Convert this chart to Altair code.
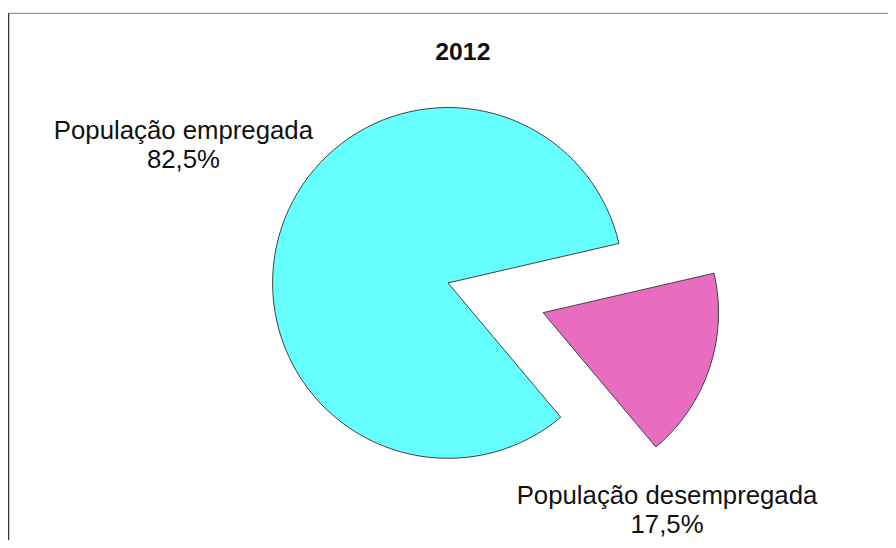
import math
import altair as alt
import pandas as pd

categories = ["População desempregada", "População empregada"]
values = [17.5, 82.5]
pct_labels = ["17,5%", "82,5%"]
colors = ["#E86DC0", "#66FFFF"]
title_text = "2012"

df = pd.DataFrame({
    "order": [0, 1],
    "cat": categories,
    "value": values,
    "pct": pct_labels,
})

start = math.radians(77)
theta_scale = alt.Scale(domain=[0, 100], range=[start, start + 2 * math.pi])
color_scale = alt.Scale(domain=categories, range=colors)

base = alt.Chart(df).transform_window(
    cum="sum(value)", sort=[alt.SortField("order")]
).transform_calculate(
    start="datum.cum - datum.value",
    label="datum.cat + '\\n' + datum.pct",
)

R = 177
cx, cy = 444, 275
px, py = 540, 305

arc_main = base.transform_filter(alt.datum.order == 1).mark_arc(
    radius=R, x=cx, y=cy, stroke="#404040", strokeWidth=1
).encode(
    theta=alt.Theta("start:Q", scale=theta_scale),
    theta2="cum:Q",
    color=alt.Color("cat:N", scale=color_scale, legend=None),
)

arc_exp = base.transform_filter(alt.datum.order == 0).mark_arc(
    radius=R, x=px, y=py, stroke="#404040", strokeWidth=1
).encode(
    theta=alt.Theta("start:Q", scale=theta_scale),
    theta2="cum:Q",
    color=alt.Color("cat:N", scale=color_scale, legend=None),
)

txt_main = base.transform_filter(alt.datum.order == 1).mark_text(
    x=177, y=130, align="center", baseline="alphabetic", lineBreak="\n",
    font="Liberation Sans", fontSize=26, lineHeight=29, color="#111111"
).encode(text="label:N")

txt_exp = base.transform_filter(alt.datum.order == 0).mark_text(
    x=665, y=498, align="center", baseline="alphabetic", lineBreak="\n",
    font="Liberation Sans", fontSize=26, lineHeight=29, color="#111111"
).encode(text="label:N")

title_df = pd.DataFrame({"t": [title_text]})
title = alt.Chart(title_df).mark_text(
    x=459, y=50, align="center", baseline="alphabetic",
    font="Liberation Sans", fontSize=25, fontWeight="bold", color="#111111"
).encode(text="t:N")

frame_df = pd.DataFrame({"k": [0]})
top_line = alt.Chart(frame_df).mark_rule(color="#999999", strokeWidth=1.5).encode(
    x=alt.value(0), x2=alt.value(888), y=alt.value(3)
)
left_line = alt.Chart(frame_df).mark_rule(color="#333333", strokeWidth=1.5).encode(
    x=alt.value(0.5), y=alt.value(3), y2=alt.value(540)
)

chart = alt.layer(top_line, left_line, arc_main, arc_exp, txt_main, txt_exp, title).properties(
    width=888, height=532, padding=0, autosize=alt.AutoSizeParams(type="none")
).configure_view(stroke=None)

chart.save("out.html", embed_options={"renderer": "svg", "actions": False})
